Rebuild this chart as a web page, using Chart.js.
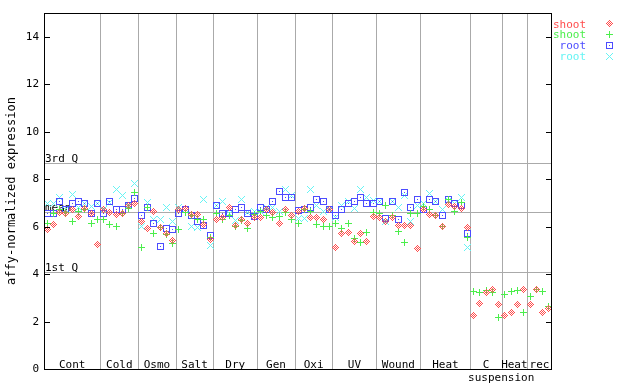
<!DOCTYPE html>
<html>
<head>
<meta charset="utf-8">
<script src="https://cdn.jsdelivr.net/npm/chart.js@4"></script>
<style>
  html, body { margin: 0; padding: 0; background: #fff; }
  canvas { display: block; }
</style>
</head>
<body>
<canvas id="chart" width="640" height="384"></canvas>
<script>
// Treatment groups along the x axis and how many samples each one holds
const groups = ['Cont', 'Cold', 'Osmo', 'Salt', 'Dry', 'Gen', 'Oxi', 'UV', 'Wound', 'Heat', 'C', 'Heat', 'rec'];
const groupSizes = [9, 6, 6, 6, 7, 6, 6, 7, 7, 8, 5, 4, 4];

// Expression values, one per sample (shoot series run through all 81 samples)
const shootRed = [
  5.86, 6.10, 6.59, 6.55, 6.70, 6.42, 6.76, 6.56, 5.25,
  6.73, 6.60, 6.49, 6.54, 6.90, 6.99,
  6.20, 5.93, 6.62, 5.97, 5.69, 5.41,
  6.70, 6.76, 6.50, 6.51, 6.10, 5.44,
  6.28, 6.40, 6.82, 6.03, 6.31, 6.14, 6.39,
  6.37, 6.73, 6.59, 6.11, 6.70, 6.45,
  6.65, 6.75, 6.39, 6.39, 6.31, 6.70,
  5.13, 5.72, 5.75, 5.38, 5.72, 5.38, 6.42,
  6.39, 6.20, 6.37, 6.03, 6.03, 6.06, 5.07,
  6.70, 6.51, 6.48, 6.00, 6.93, 6.85, 6.76, 5.97,
  2.27, 2.76, 3.21, 3.33, 2.73,
  2.27, 2.37, 2.73, 3.33,
  2.73, 3.33, 2.39, 2.54
];
const shootGreen = [
  6.11, 6.56, 6.70, 6.60, 6.20, 6.62, 6.70, 6.14, 6.30,
  6.30, 6.08, 6.00, 6.56, 6.75, 7.44,
  5.13, 6.82, 5.72, 5.97, 5.65, 5.30,
  5.89, 6.60, 6.45, 6.31, 6.31, 5.55,
  6.56, 6.31, 6.45, 6.00, 6.25, 5.92, 6.50,
  6.62, 6.48, 6.39, 6.42, 6.60, 6.31,
  6.15, 6.73, 6.62, 6.10, 6.00, 6.00,
  6.14, 5.92, 6.11, 5.49, 5.32, 5.77, 6.60,
  6.54, 6.87, 6.45, 5.78, 5.35, 6.54, 6.56,
  6.85, 6.70, 6.45, 6.00, 7.15, 6.62, 7.00, 5.55,
  3.27, 3.21, 3.30, 3.21, 2.17,
  3.16, 3.27, 3.30, 2.39,
  3.04, 3.33, 3.27, 2.65
];
// root series stop after the Heat group
const rootBlue = [
  6.56, 6.56, 7.06, 6.70, 6.96, 7.04, 6.96, 6.56, 6.96,
  6.54, 7.04, 6.73, 6.73, 6.90, 7.20,
  6.45, 6.82, 6.11, 5.18, 5.94, 5.86,
  6.56, 6.70, 6.45, 6.23, 6.06, 5.63,
  6.87, 6.56, 6.56, 6.70, 6.79, 6.54, 6.42,
  6.82, 6.73, 7.07, 7.49, 7.24, 7.24,
  6.68, 6.73, 6.82, 7.13, 7.07, 6.73,
  6.45, 6.70, 6.96, 7.04, 7.24, 6.99, 6.99,
  7.04, 6.34, 7.04, 6.31, 7.44, 6.82, 7.13,
  6.70, 7.15, 7.07, 6.45, 7.15, 6.96, 6.87, 5.72
];
const rootCyan = [
  6.96, 6.96, 7.24, 6.70, 7.37, 6.82, 6.96, 6.85, 6.96,
  6.70, 7.00, 7.58, 7.30, 6.90, 7.83,
  6.00, 7.03, 6.31, 6.30, 6.82, 6.20,
  6.82, 6.70, 6.00, 5.97, 7.16, 5.21,
  6.87, 7.04, 6.56, 6.25, 7.15, 6.60, 6.62,
  6.62, 6.82, 6.82, 6.62, 7.58, 7.32,
  6.34, 6.35, 7.58, 6.90, 6.62, 6.73,
  6.40, 6.90, 7.04, 6.76, 7.58, 7.24, 7.10,
  7.04, 6.20, 7.04, 6.79, 7.32, 6.20, 6.90,
  6.99, 7.38, 7.07, 6.70, 7.10, 6.96, 7.24, 5.13
];

const seriesLabels = ['shoot', 'shoot', 'root', 'root'];
const seriesColors = ['#ff4c4c', '#4cee4c', '#4c4cff', '#66f4f4'];

// Genome-wide reference lines
const refLabels = ['3rd Q', 'mean', '1st Q'];
const refValues = [8.68, 6.61, 4.08];

const yTicks = [0, 2, 4, 6, 8, 10, 12, 14];
const FONT = '"DejaVu Sans Mono", "Liberation Mono", monospace';

// little pixel symbols like the original plot
function makeSymbol(color, kind) {
  const c = document.createElement('canvas');
  c.width = 7;
  c.height = 7;
  const g = c.getContext('2d');
  g.fillStyle = color;
  for (let py = 0; py < 7; py++) {
    for (let px = 0; px < 7; px++) {
      const dx = px - 3, dy = py - 3;
      let on = false;
      if (kind === 'diamond') on = Math.abs(dx) + Math.abs(dy) <= 3 && Math.abs(dx + dy) % 2 === 1;
      if (kind === 'plus') on = dx === 0 || dy === 0;
      if (kind === 'square') on = Math.abs(dx) === 3 || Math.abs(dy) === 3 || (dx === 0 && dy === 0);
      if (kind === 'cross') on = Math.abs(dx) === Math.abs(dy);
      if (on) g.fillRect(px, py, 1, 1);
    }
  }
  return c;
}

const symbols = [
  makeSymbol(seriesColors[0], 'diamond'),
  makeSymbol(seriesColors[1], 'plus'),
  makeSymbol(seriesColors[2], 'square'),
  makeSymbol(seriesColors[3], 'cross')
];

function toPoints(values) {
  return values.map((v, i) => ({ x: i + 0.5, y: v }));
}

const totalSamples = groupSizes.reduce((s, n) => s + n, 0);

function hLine(ctx, x1, x2, y) {
  ctx.beginPath();
  ctx.moveTo(x1, y);
  ctx.lineTo(x2, y);
  ctx.stroke();
}
function vLine(ctx, x, y1, y2) {
  ctx.beginPath();
  ctx.moveTo(x, y1);
  ctx.lineTo(x, y2);
  ctx.stroke();
}

const frame = {
  id: 'frame',
  beforeDatasetsDraw(chart) {
    const { ctx, chartArea: a, scales: { x, y } } = chart;
    ctx.save();
    ctx.strokeStyle = '#aaaaaa';
    ctx.lineWidth = 1;

    // group separators
    let acc = 0;
    groupSizes.slice(0, -1).forEach(n => {
      acc += n;
      const px = Math.round(x.getPixelForValue(acc)) + 0.5;
      vLine(ctx, px, a.top, a.bottom);
    });

    // quartile / mean lines with labels
    ctx.font = '11px ' + FONT;
    ctx.fillStyle = '#000';
    ctx.textAlign = 'left';
    ctx.textBaseline = 'alphabetic';
    refValues.forEach((v, i) => {
      const py = Math.round(y.getPixelForValue(v)) + 0.5;
      hLine(ctx, a.left, a.right, py);
      ctx.fillText(refLabels[i], a.left + 1, py - 1.5);
    });
    ctx.restore();
    ctx.imageSmoothingEnabled = false;
  },
  afterDraw(chart) {
    const { ctx, chartArea: a, scales: { x, y } } = chart;
    ctx.save();
    ctx.strokeStyle = '#000';
    ctx.lineWidth = 1;

    // plot box
    vLine(ctx, a.left + 0.5, a.top, a.bottom + 1);
    vLine(ctx, a.right - 0.5, a.top, a.bottom + 1);
    hLine(ctx, a.left, a.right, a.top + 0.5);
    hLine(ctx, a.left, a.right, a.bottom + 0.5);

    // inward ticks on both sides + labels on the left
    ctx.font = '11px ' + FONT;
    ctx.fillStyle = '#000';
    ctx.textAlign = 'right';
    ctx.textBaseline = 'middle';
    yTicks.forEach(v => {
      const py = Math.round(y.getPixelForValue(v)) + 0.5;
      hLine(ctx, a.left, a.left + 6, py);
      hLine(ctx, a.right - 6, a.right, py);
      ctx.fillText(String(v), a.left - 5, py);
    });

    // y axis title
    ctx.save();
    ctx.translate(12, (a.top + a.bottom) / 2);
    ctx.rotate(-Math.PI / 2);
    ctx.textAlign = 'center';
    ctx.font = '12px ' + FONT;
    ctx.fillText('affy-normalized expression', 0, 0);
    ctx.restore();

    // group names inside the bottom of the plot
    ctx.textAlign = 'center';
    ctx.textBaseline = 'alphabetic';
    let acc = 0;
    groupSizes.forEach((n, i) => {
      const cx = (x.getPixelForValue(acc) + x.getPixelForValue(acc + n)) / 2;
      ctx.fillText(groups[i], cx, a.bottom - 1.5);
      if (groups[i] === 'C') ctx.fillText('suspension', cx + 15, a.bottom + 12);
      acc += n;
    });

    // legend top right
    ctx.textAlign = 'right';
    seriesLabels.forEach((label, i) => {
      ctx.fillStyle = seriesColors[i];
      ctx.fillText(label, 586, 27.5 + 10.7 * i);
      ctx.drawImage(symbols[i], 606, Math.round(20 + 10.9 * i));
    });
    ctx.restore();
  }
};

new Chart(document.getElementById('chart'), {
  type: 'scatter',
  data: {
    datasets: [shootRed, shootGreen, rootBlue, rootCyan].map((vals, i) => ({
      label: seriesLabels[i],
      data: toPoints(vals),
      pointStyle: symbols[i],
      pointRadius: 3.5,
      pointHoverRadius: 3.5,
      borderColor: seriesColors[i],
      backgroundColor: seriesColors[i],
      showLine: false
    }))
  },
  options: {
    responsive: false,
    animation: false,
    devicePixelRatio: 1,
    layout: { padding: { left: 44, top: 13, right: 88, bottom: 15 } },
    plugins: { legend: { display: false }, tooltip: { enabled: false } },
    scales: {
      x: { type: 'linear', min: 0, max: totalSamples, display: false },
      y: { type: 'linear', min: 0, max: 15, display: false }
    }
  },
  plugins: [frame]
});
</script>
</body>
</html>
